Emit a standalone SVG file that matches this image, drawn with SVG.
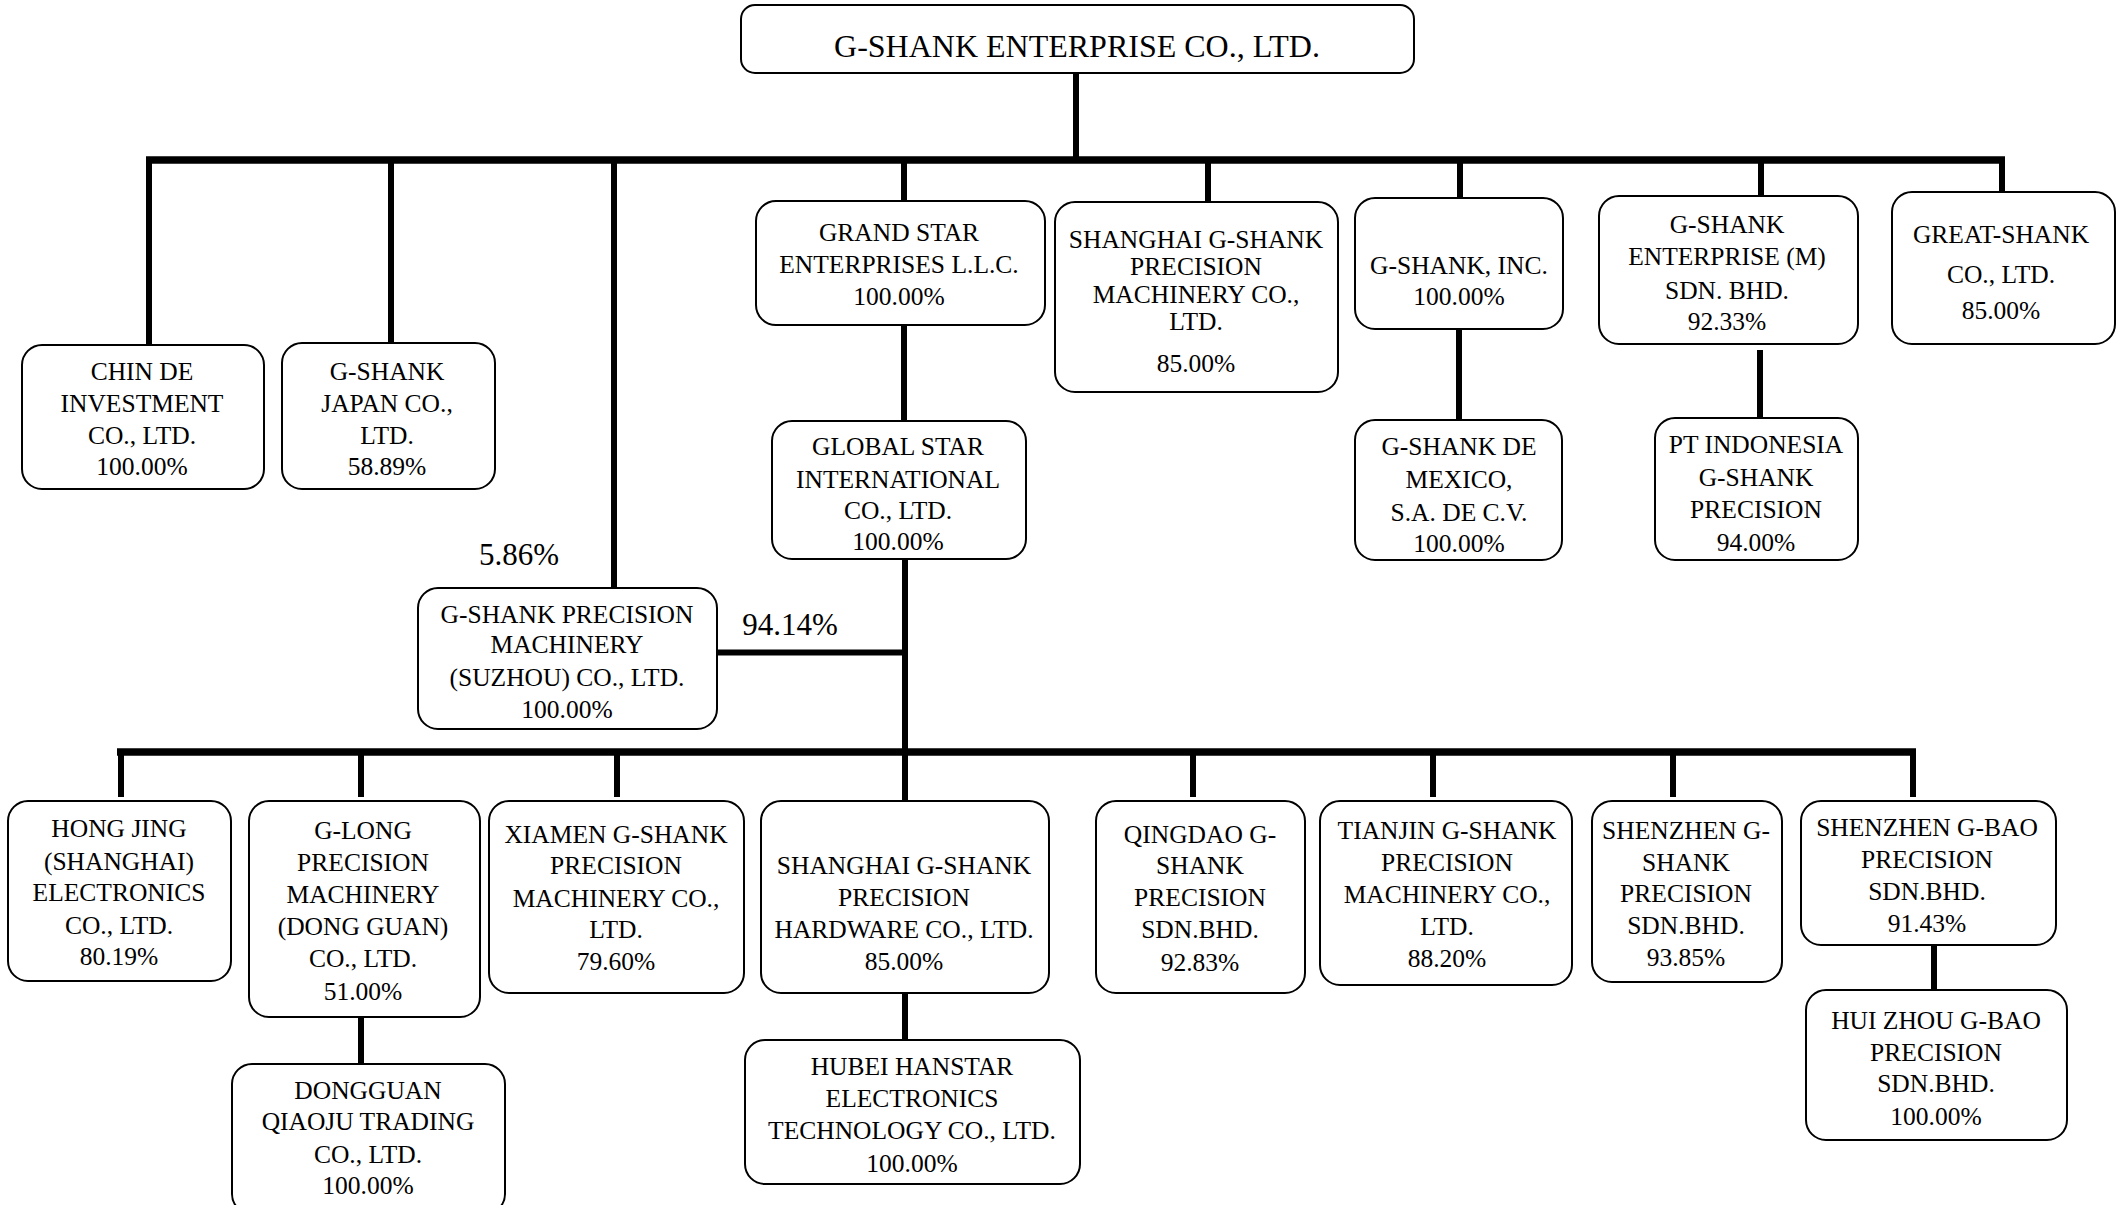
<svg xmlns="http://www.w3.org/2000/svg" width="2121" height="1205" viewBox="0 0 2121 1205">
<style>
.box{fill:#fff;stroke:#000;stroke-width:2}
text{font-family:"Liberation Serif","Times New Roman",serif;font-size:25.5px;fill:#000;text-anchor:middle}
.title{font-size:32px}
.lbl{font-size:31px}
.c line{stroke:#000;stroke-width:6}
.c line.bar{stroke-width:7.5}
</style>
<rect width="2121" height="1205" fill="#fff"/>
<g id="connectors" class="c">
<line x1="1076" y1="73" x2="1076" y2="160"/>
<line class="bar" x1="146" y1="160" x2="2005" y2="160"/>
<line x1="149" y1="160" x2="149" y2="345"/>
<line x1="391" y1="160" x2="391" y2="343"/>
<line x1="614" y1="160" x2="614" y2="588"/>
<line x1="904" y1="160" x2="904" y2="201"/>
<line x1="1208" y1="160" x2="1208" y2="202"/>
<line x1="1460" y1="160" x2="1460" y2="198"/>
<line x1="1761" y1="160" x2="1761" y2="196"/>
<line x1="2002" y1="160" x2="2002" y2="192"/>
<line x1="904" y1="325" x2="904" y2="421"/>
<line x1="1459" y1="329" x2="1459" y2="420"/>
<line x1="1760" y1="350" x2="1760" y2="418"/>
<line x1="905" y1="559" x2="905" y2="801"/>
<line x1="717" y1="652.5" x2="905" y2="652.5"/>
<line class="bar" x1="117" y1="752" x2="1916" y2="752"/>
<line x1="121" y1="752" x2="121" y2="797"/>
<line x1="361" y1="752" x2="361" y2="797"/>
<line x1="617" y1="752" x2="617" y2="797"/>
<line x1="1193" y1="752" x2="1193" y2="797"/>
<line x1="1433" y1="752" x2="1433" y2="797"/>
<line x1="1673" y1="752" x2="1673" y2="797"/>
<line x1="1913" y1="752" x2="1913" y2="797"/>
<line x1="361" y1="1017" x2="361" y2="1065"/>
<line x1="905" y1="993" x2="905" y2="1040"/>
<line x1="1934" y1="945" x2="1934" y2="990"/>
</g>
<text class="lbl" x="519" y="565">5.86%</text>
<text class="lbl" x="790" y="635">94.14%</text>
<g id="n-top"><rect class="box" x="741" y="5" width="673" height="68" rx="14"/><text class="title" x="1077" y="56.5">G-SHANK ENTERPRISE CO., LTD.</text></g>
<g id="n-chinde"><rect class="box" x="22" y="345" width="242" height="144" rx="20"/><text x="142" y="379.5">CHIN DE</text><text x="142" y="411.5">INVESTMENT</text><text x="142" y="443.5">CO., LTD.</text><text x="142" y="474.5">100.00%</text></g>
<g id="n-japan"><rect class="box" x="282" y="343" width="213" height="146" rx="20"/><text x="387" y="379.5">G-SHANK</text><text x="387" y="411.5">JAPAN CO.,</text><text x="387" y="443.5">LTD.</text><text x="387" y="474.5">58.89%</text></g>
<g id="n-grandstar"><rect class="box" x="756" y="201" width="289" height="124" rx="20"/><text x="899" y="241">GRAND STAR</text><text x="899" y="273">ENTERPRISES L.L.C.</text><text x="899" y="305">100.00%</text></g>
<g id="n-shmach"><rect class="box" x="1055" y="202" width="283" height="190" rx="20"/><text x="1196" y="247.5">SHANGHAI G-SHANK</text><text x="1196" y="274.5">PRECISION</text><text x="1196" y="303">MACHINERY CO.,</text><text x="1196" y="330">LTD.</text><text x="1196" y="371.5">85.00%</text></g>
<g id="n-inc"><rect class="box" x="1355" y="198" width="208" height="131" rx="20"/><text x="1459" y="273.5">G-SHANK, INC.</text><text x="1459" y="305">100.00%</text></g>
<g id="n-m"><rect class="box" x="1599" y="196" width="259" height="148" rx="20"/><text x="1727" y="233">G-SHANK</text><text x="1727" y="265">ENTERPRISE (M)</text><text x="1727" y="299">SDN. BHD.</text><text x="1727" y="330">92.33%</text></g>
<g id="n-great"><rect class="box" x="1892" y="192" width="223" height="152" rx="20"/><text x="2001" y="243">GREAT-SHANK</text><text x="2001" y="283">CO., LTD.</text><text x="2001" y="319">85.00%</text></g>
<g id="n-globalstar"><rect class="box" x="772" y="421" width="254" height="138" rx="20"/><text x="898" y="455">GLOBAL STAR</text><text x="898" y="487.5">INTERNATIONAL</text><text x="898" y="519">CO., LTD.</text><text x="898" y="550">100.00%</text></g>
<g id="n-mexico"><rect class="box" x="1355" y="420" width="207" height="140" rx="20"/><text x="1459" y="455">G-SHANK DE</text><text x="1459" y="488">MEXICO,</text><text x="1459" y="520.5">S.A. DE C.V.</text><text x="1459" y="551.5">100.00%</text></g>
<g id="n-indonesia"><rect class="box" x="1655" y="418" width="203" height="142" rx="20"/><text x="1756" y="453">PT INDONESIA</text><text x="1756" y="485.5">G-SHANK</text><text x="1756" y="517.5">PRECISION</text><text x="1756" y="551">94.00%</text></g>
<g id="n-suzhou"><rect class="box" x="418" y="588" width="299" height="141" rx="20"/><text x="567" y="622.5">G-SHANK PRECISION</text><text x="567" y="653">MACHINERY</text><text x="567" y="686">(SUZHOU) CO., LTD.</text><text x="567" y="718">100.00%</text></g>
<g id="n-hongjing"><rect class="box" x="8" y="801" width="223" height="180" rx="20"/><text x="119" y="837">HONG JING</text><text x="119" y="870">(SHANGHAI)</text><text x="119" y="901">ELECTRONICS</text><text x="119" y="934">CO., LTD.</text><text x="119" y="965">80.19%</text></g>
<g id="n-glong"><rect class="box" x="249" y="801" width="231" height="216" rx="20"/><text x="363" y="839">G-LONG</text><text x="363" y="871">PRECISION</text><text x="363" y="903">MACHINERY</text><text x="363" y="935">(DONG GUAN)</text><text x="363" y="967">CO., LTD.</text><text x="363" y="999.5">51.00%</text></g>
<g id="n-dongguan"><rect class="box" x="232" y="1064" width="273" height="150" rx="20"/><text x="368" y="1098.5">DONGGUAN</text><text x="368" y="1130">QIAOJU TRADING</text><text x="368" y="1162.5">CO., LTD.</text><text x="368" y="1194">100.00%</text></g>
<g id="n-xiamen"><rect class="box" x="489" y="801" width="255" height="192" rx="20"/><text x="616" y="842.5">XIAMEN G-SHANK</text><text x="616" y="874">PRECISION</text><text x="616" y="907">MACHINERY CO.,</text><text x="616" y="938">LTD.</text><text x="616" y="970">79.60%</text></g>
<g id="n-hardware"><rect class="box" x="761" y="801" width="288" height="192" rx="20"/><text x="904" y="874">SHANGHAI G-SHANK</text><text x="904" y="906">PRECISION</text><text x="904" y="938">HARDWARE CO., LTD.</text><text x="904" y="970">85.00%</text></g>
<g id="n-hubei"><rect class="box" x="745" y="1040" width="335" height="144" rx="20"/><text x="912" y="1075">HUBEI HANSTAR</text><text x="912" y="1106.5">ELECTRONICS</text><text x="912" y="1138.5">TECHNOLOGY CO., LTD.</text><text x="912" y="1171.5">100.00%</text></g>
<g id="n-qingdao"><rect class="box" x="1096" y="801" width="209" height="192" rx="20"/><text x="1200" y="842.5">QINGDAO G-</text><text x="1200" y="874">SHANK</text><text x="1200" y="906">PRECISION</text><text x="1200" y="938">SDN.BHD.</text><text x="1200" y="971">92.83%</text></g>
<g id="n-tianjin"><rect class="box" x="1320" y="801" width="252" height="184" rx="20"/><text x="1447" y="839">TIANJIN G-SHANK</text><text x="1447" y="871">PRECISION</text><text x="1447" y="903">MACHINERY CO.,</text><text x="1447" y="935">LTD.</text><text x="1447" y="967">88.20%</text></g>
<g id="n-szgshank"><rect class="box" x="1592" y="801" width="190" height="181" rx="20"/><text x="1686" y="839">SHENZHEN G-</text><text x="1686" y="871">SHANK</text><text x="1686" y="902">PRECISION</text><text x="1686" y="934">SDN.BHD.</text><text x="1686" y="966">93.85%</text></g>
<g id="n-szgbao"><rect class="box" x="1801" y="801" width="255" height="144" rx="20"/><text x="1927" y="836">SHENZHEN G-BAO</text><text x="1927" y="868">PRECISION</text><text x="1927" y="900">SDN.BHD.</text><text x="1927" y="932">91.43%</text></g>
<g id="n-huizhou"><rect class="box" x="1806" y="990" width="261" height="150" rx="20"/><text x="1936" y="1028.5">HUI ZHOU G-BAO</text><text x="1936" y="1060.5">PRECISION</text><text x="1936" y="1092">SDN.BHD.</text><text x="1936" y="1125">100.00%</text></g>
</svg>
